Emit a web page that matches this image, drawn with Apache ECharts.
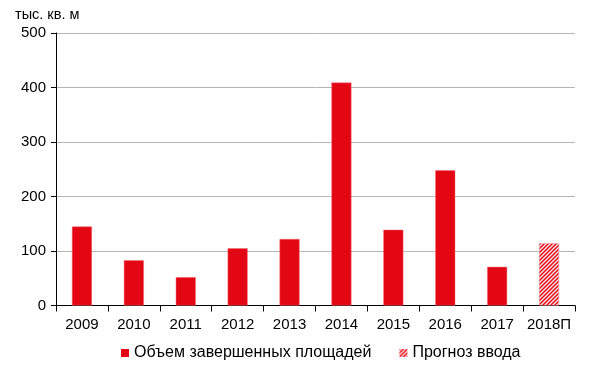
<!DOCTYPE html>
<html><head><meta charset="utf-8">
<script src="https://cdn.jsdelivr.net/npm/echarts@6/dist/echarts.min.js"></script>
<style>html,body{margin:0;padding:0;background:#fff}#c{width:600px;height:371px}</style>
</head><body><div id="c"></div>
<script>
const categories = ['2009','2010','2011','2012','2013','2014','2015','2016','2017','2018П'];
const actualValues = [145, 83, 52, 105, 122, 409, 139, 248, 71, null];
const forecastValues = [null, null, null, null, null, null, null, null, null, 114];
const yTicks = [0, 100, 200, 300, 400, 500];
const seriesNames = ['Объем завершенных площадей', 'Прогноз ввода'];
const unitLabel = 'тыс. кв. м';

function makePattern(){
  const c = document.createElement('canvas');
  c.width = 4; c.height = 4;
  const g = c.getContext('2d');
  g.fillStyle = '#fbe3e5';
  g.fillRect(0,0,4,4);
  g.strokeStyle = '#e30613';
  g.lineWidth = 1.4;
  g.beginPath();
  g.moveTo(-1,5); g.lineTo(5,-1);
  g.moveTo(-1,1); g.lineTo(1,-1);
  g.moveTo(3,5); g.lineTo(5,3);
  g.stroke();
  return c;
}
const pat = {image: makePattern(), repeat: 'repeat'};
const font = 'Liberation Sans, Arial, sans-serif';
const chart = echarts.init(document.getElementById('c'), null, {renderer:'canvas'});
chart.setOption({
  animation: false,
  textStyle: {fontFamily: font},
  grid: {left: 56, right: 25, top: 33, bottom: 65.5, containLabel: false},
  graphic: [{type:'text', left: 15, top: 7, style:{text: unitLabel, font: '14.5px ' + font, fill:'#000'}}],
  legend: {
    bottom: 5, left: 116, itemWidth: 8, itemHeight: 8, itemGap: 28,
    textStyle: {fontSize: 16, color: '#000', fontFamily: font},
    itemStyle: {borderWidth: 0},
    data: [
      {name: seriesNames[0], icon: 'rect', itemStyle: {color: '#e30613', borderWidth: 0}},
      {name: seriesNames[1], icon: 'rect', itemStyle: {color: pat, borderWidth: 0}}
    ]
  },
  xAxis: {
    type: 'category', data: categories, boundaryGap: true,
    axisLine: {lineStyle: {color: '#000', width: 1}},
    axisTick: {show: true, length: 6, lineStyle: {color: '#000'}, alignWithLabel: false},
    axisLabel: {color: '#000', fontSize: 15, margin: 12, interval: 0, fontFamily: font}
  },
  yAxis: {
    type: 'value', min: yTicks[0], max: yTicks[yTicks.length-1], interval: 100,
    axisLine: {show: true, lineStyle: {color: '#000', width: 1}},
    axisTick: {show: true, length: 5, lineStyle: {color: '#000'}},
    axisLabel: {color: '#000', fontSize: 15, margin: 10, fontFamily: font},
    splitLine: {lineStyle: {color: '#b5b5b5', width: 1}}
  },
  series: [
    {name: seriesNames[0], type: 'bar', stack: 'a', data: actualValues, barWidth: 20,
     itemStyle: {color: '#e30613', borderColor: '#f36d77', borderWidth: 0.5}},
    {name: seriesNames[1], type: 'bar', stack: 'a', data: forecastValues, barWidth: 20,
     itemStyle: {color: pat, borderColor: '#f08a92', borderWidth: 0.5}}
  ]
});
</script></body></html>
